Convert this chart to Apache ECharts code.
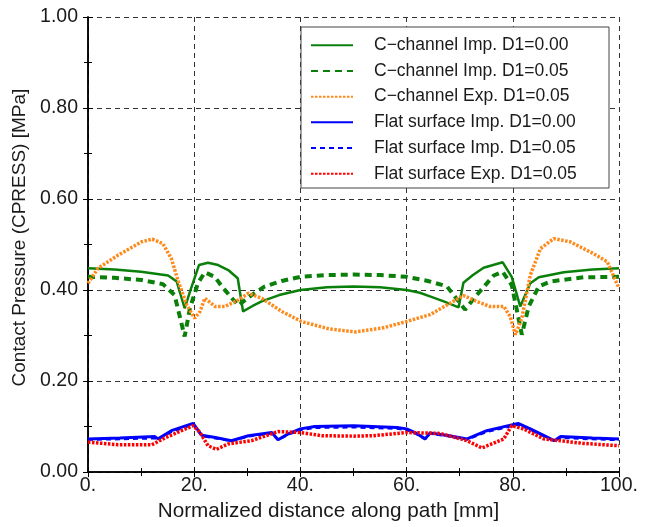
<!DOCTYPE html>
<html lang="en">
<head>
    <meta charset="UTF-8">
    <title>CPRESS</title>
    <script src="https://cdn.jsdelivr.net/npm/echarts@6/dist/echarts.min.js"></script>
    <style>
        * { margin: 0; padding: 0; box-sizing: border-box; }
        html, body { background: #fff; }
    </style>
</head>
<body>
<div id="main" style="width: 646px;height:527px;"></div>
<script type="text/javascript">
    // [distance mm, pressure MPa]
    var cImp0 = [[0,0.448],[5,0.445],[10,0.440],[15.1,0.432],[16.7,0.419],[18.2,0.360],[19.3,0.40],[20.9,0.455],[22.6,0.460],[24.5,0.455],[26.4,0.444],[28.2,0.426],[29.2,0.353],[31,0.365],[32.7,0.375],[36,0.389],[40,0.400],[45,0.406],[50,0.408],[55,0.406],[60,0.400],[62.5,0.394],[64.4,0.386],[67,0.375],[69.8,0.362],[70.7,0.416],[72.5,0.433],[74.5,0.449],[78.1,0.461],[79.8,0.429],[81.4,0.364],[83.3,0.415],[84.9,0.428],[89.6,0.439],[95,0.445],[100,0.448]];
    var cImp5 = [[0,0.429],[5,0.427],[10.1,0.422],[14.1,0.413],[16.3,0.389],[18.2,0.298],[19.2,0.360],[20.7,0.415],[22,0.439],[23.9,0.429],[25.2,0.408],[28.3,0.366],[30.8,0.389],[33.3,0.408],[36.5,0.420],[40,0.429],[45,0.433],[50,0.434],[55,0.433],[60,0.429],[64,0.420],[67.6,0.408],[71,0.357],[73.2,0.389],[76.4,0.432],[78.1,0.440],[79.8,0.411],[81.7,0.302],[83,0.364],[84.9,0.408],[87.1,0.419],[93.3,0.428],[100,0.429]];
    var cExp5 = [[0,0.415],[1.9,0.448],[5.7,0.477],[10.1,0.506],[12.1,0.512],[14.1,0.502],[15.7,0.469],[17,0.419],[18.6,0.367],[20.1,0.338],[21.1,0.353],[22,0.382],[23.9,0.364],[25.8,0.364],[28.3,0.378],[30.2,0.393],[32.7,0.382],[36.5,0.353],[40.2,0.331],[45.3,0.315],[50.3,0.308],[55.6,0.317],[60,0.331],[64.4,0.346],[68.2,0.371],[70.7,0.388],[73.2,0.375],[75.7,0.364],[78.3,0.364],[79.5,0.342],[80.5,0.302],[81.7,0.338],[83.3,0.433],[85.2,0.491],[87.7,0.513],[90.8,0.506],[95.2,0.480],[97.8,0.462],[100,0.404]];
    var fImp0 = [[0,0.073],[6,0.075],[12.6,0.078],[13.2,0.073],[15.7,0.091],[19.8,0.107],[21.4,0.081],[24,0.076],[27,0.069],[30.2,0.080],[34.6,0.087],[35.8,0.071],[37.7,0.084],[40,0.095],[42.7,0.100],[50,0.102],[58.2,0.098],[60,0.095],[61.9,0.085],[63.5,0.073],[64.4,0.086],[68,0.080],[71.4,0.073],[75.1,0.091],[81,0.107],[83.3,0.095],[87.8,0.069],[89,0.078],[95,0.075],[100,0.073]];
    var fImp5 = [[0,0.071],[6,0.072],[12.6,0.074],[13.2,0.072],[15.7,0.088],[19.8,0.104],[21.4,0.079],[24,0.074],[27,0.068],[30.2,0.078],[34.6,0.085],[35.8,0.070],[37.7,0.082],[40,0.092],[42.7,0.097],[50,0.098],[58.2,0.095],[60,0.092],[61.9,0.083],[63.5,0.072],[64.4,0.084],[68,0.078],[71.4,0.071],[75.1,0.088],[81,0.104],[83.3,0.092],[87.8,0.068],[89,0.075],[95,0.072],[100,0.070]];
    var fExp5 = [[0,0.066],[5.7,0.060],[12,0.060],[14.5,0.075],[17.6,0.091],[19.8,0.102],[21.1,0.087],[22.6,0.058],[24.2,0.050],[26.4,0.062],[30.8,0.069],[35.8,0.089],[40,0.087],[44,0.080],[50,0.079],[53.7,0.080],[60,0.087],[66.3,0.085],[71.4,0.069],[74.2,0.053],[78.3,0.073],[79.8,0.102],[82,0.095],[85.8,0.073],[93.3,0.063],[100,0.058]];

    var names = ['C\u2212channel Imp. D1=0.00', 'C\u2212channel Imp. D1=0.05', 'C\u2212channel Exp. D1=0.05',
                 'Flat surface Imp. D1=0.00', 'Flat surface Imp. D1=0.05', 'Flat surface Exp. D1=0.05'];

    var font = 'Liberation Sans, Arial, sans-serif';
    var myChart = echarts.init(document.getElementById('main'));

    function mkLine(name, data, color, width, type) {
        return {
            name: name,
            type: 'line',
            data: data,
            symbol: 'none',
            animation: false,
            lineStyle: { color: color, width: width, type: type },
            itemStyle: { color: color }
        };
    }

    var gridDash = { color: '#333', width: 1, type: [5, 4] };
    var tick = { show: true, inside: true, length: 5, lineStyle: { color: '#000', width: 1 } };
    var minor = { show: true, splitNumber: 2, length: 4, lineStyle: { color: '#000', width: 1 } };

    var option = {
        backgroundColor: '#fff',
        textStyle: { fontFamily: font },
        grid: { left: 88, right: 27, top: 17, bottom: 52 },
        legend: {
            data: names,
            orient: 'vertical',
            left: 310,
            top: 36,
            padding: 0,
            itemWidth: 42,
            itemHeight: 14,
            itemGap: 7.2,
            z: 12,
            selectedMode: false,
            itemStyle: { opacity: 0 },
            textStyle: { fontSize: 17.5, lineHeight: 18.5, color: '#1a1a1a', fontFamily: font, padding: [0, 0, 0, 16] }
        },
        graphic: [{
            type: 'rect',
            z: 10,
            shape: { x: 301, y: 27, width: 308, height: 161 },
            style: { fill: '#fff', stroke: '#444', lineWidth: 1 }
        }],
        xAxis: [{
            type: 'value', min: 0, max: 100, interval: 20,
            name: 'Normalized distance along path [mm]',
            nameLocation: 'middle', nameGap: 25,
            nameTextStyle: { fontSize: 20.7, color: '#1a1a1a', padding: [0, 50, 0, 0] },
            axisLine: { show: true, lineStyle: { color: '#000', width: 1.5 } },
            axisTick: tick, minorTick: minor,
            splitLine: { show: true, lineStyle: gridDash },
            axisLabel: { fontSize: 19.5, color: '#1a1a1a', margin: 4, formatter: function (v) { return v + '.'; } }
        }, {
            type: 'value', min: 0, max: 100, interval: 20, position: 'top',
            axisLine: { show: true, lineStyle: { color: '#000', width: 1.5 } },
            axisTick: tick, minorTick: minor,
            splitLine: { show: false }, axisLabel: { show: false }
        }],
        yAxis: [{
            type: 'value', min: 0, max: 1, interval: 0.2,
            name: 'Contact Pressure (CPRESS) [MPa]',
            nameLocation: 'middle', nameGap: 56,
            nameTextStyle: { fontSize: 19, color: '#1a1a1a', padding: [0, 0, 0, 14] },
            axisLine: { show: true, lineStyle: { color: '#000', width: 1.5 } },
            axisTick: tick, minorTick: minor,
            splitLine: { show: true, lineStyle: gridDash },
            axisLabel: { fontSize: 19.5, color: '#1a1a1a', margin: 10, formatter: function (v) { return v.toFixed(2); } }
        }, {
            type: 'value', min: 0, max: 1, interval: 0.2, position: 'right',
            axisLine: { show: true, lineStyle: { color: '#000', width: 1.5 } },
            axisTick: tick, minorTick: minor,
            splitLine: { show: false }, axisLabel: { show: false }
        }],
        series: [
            mkLine(names[0], cImp0, '#0a800a', 2.5, 'solid'),
            mkLine(names[1], cImp5, '#0a800a', 4, [7, 5]),
            mkLine(names[2], cExp5, '#ff8a1c', 3.5, [2.5, 1.5]),
            mkLine(names[3], fImp0, '#0000ff', 3, 'solid'),
            mkLine(names[4], fImp5, '#0000ff', 2, [5, 4]),
            mkLine(names[5], fExp5, '#ff0000', 3.5, [2.5, 1.5])
        ]
    };
    myChart.setOption(option);
</script>
</body>
</html>
